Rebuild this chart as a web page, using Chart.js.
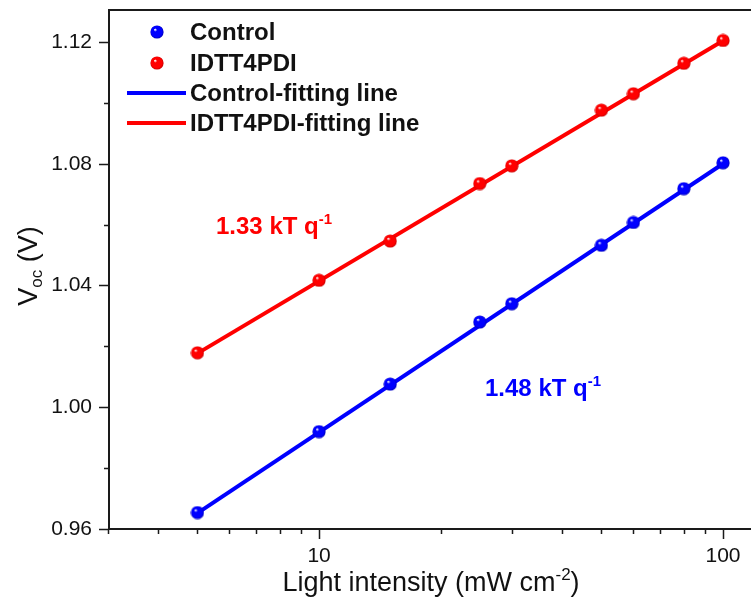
<!DOCTYPE html>
<html>
<head>
<meta charset="utf-8">
<script src="https://cdn.jsdelivr.net/npm/chart.js@4.4.1/dist/chart.umd.min.js"></script>
<style>
  html, body { margin: 0; padding: 0; background: #ffffff; }
  #vocChart { display: block; }
</style>
</head>
<body>
<canvas id="vocChart" width="751" height="603"></canvas>
<script>
// Data block
const intensity = [5, 10, 15, 25, 30, 50, 60, 80, 100];
const controlVoc = [0.9654, 0.9920, 1.0076, 1.0280, 1.0340, 1.0532, 1.0607, 1.0718, 1.0803];
const idttVoc = [1.0179, 1.0417, 1.0546, 1.0735, 1.0793, 1.0976, 1.1030, 1.1130, 1.1205];
const fitIntensity = [5, 100];
const controlFit = [0.9652, 1.0800];
const idttFit = [1.0177, 1.1204];
const xTickValues = [10, 100];
const yTickValues = [0.96, 1.00, 1.04, 1.08, 1.12];
const seriesLabels = ['Control', 'IDTT4PDI', 'Control-fitting line', 'IDTT4PDI-fitting line'];

const BLUE = '#0000ff';
const RED = '#ff0000';
const FONT = '"Liberation Sans", Arial, sans-serif';

// shaded ball used as point style
function makeBall(color, dark) {
    const c = document.createElement('canvas');
    c.width = 14;
    c.height = 14;
    const g = c.getContext('2d');
    const grad = g.createRadialGradient(5, 4.5, 0.3, 7, 7, 7);
    grad.addColorStop(0, '#ffffff');
    grad.addColorStop(0.22, color);
    grad.addColorStop(0.75, color);
    grad.addColorStop(1, dark);
    g.fillStyle = grad;
    g.beginPath();
    g.arc(7, 7, 6.6, 0, Math.PI * 2);
    g.fill();
    return c;
}
const blueBall = makeBall(BLUE, '#0000b0');
const redBall = makeBall(RED, '#c00000');

const toPoints = (xs, ys) => xs.map((x, i) => ({x: x, y: ys[i]}));

// Setup block
const vocData = {
    datasets: [{
        label: seriesLabels[0],
        data: toPoints(intensity, controlVoc),
        pointStyle: blueBall,
        showLine: false,
        order: 0
    }, {
        label: seriesLabels[1],
        data: toPoints(intensity, idttVoc),
        pointStyle: redBall,
        showLine: false,
        order: 0
    }, {
        label: seriesLabels[2],
        data: toPoints(fitIntensity, controlFit),
        showLine: true,
        borderColor: BLUE,
        borderWidth: 4,
        pointRadius: 0,
        order: 1
    }, {
        label: seriesLabels[3],
        data: toPoints(fitIntensity, idttFit),
        showLine: true,
        borderColor: RED,
        borderWidth: 4,
        pointRadius: 0,
        order: 1
    }]
};

// helper: text with a raised / lowered small part
function drawRich(ctx, parts, x, y, align) {
    let total = 0;
    parts.forEach(p => { ctx.font = p.font; total += ctx.measureText(p.text).width; });
    let cx = align === 'center' ? x - total / 2 : x;
    ctx.textAlign = 'left';
    ctx.textBaseline = 'alphabetic';
    parts.forEach(p => {
        ctx.font = p.font;
        ctx.fillText(p.text, cx, y + (p.dy || 0));
        cx += ctx.measureText(p.text).width;
    });
}

// Frame, ticks, titles, notes and legend plugin block
const vocDecor = {
    id: 'vocDecor',
    afterDraw(chart) {
        const ctx = chart.ctx;
        const area = chart.chartArea;
        const xs = chart.scales.x;
        const ys = chart.scales.y;
        ctx.save();

        // frame (right side is cut off in the original)
        ctx.strokeStyle = '#1a1a1a';
        ctx.lineWidth = 2;
        ctx.beginPath();
        ctx.moveTo(chart.width, area.top);
        ctx.lineTo(area.left, area.top);
        ctx.lineTo(area.left, area.bottom);
        ctx.lineTo(chart.width, area.bottom);
        ctx.stroke();

        // tick marks, major and minor, outward
        ctx.lineWidth = 1.5;
        ctx.beginPath();
        for (let d = 1; d <= 100; d *= 10) {
            for (let m = 1; m < 10; m++) {
                const v = d * m;
                if (v < xs.min * 0.99 || v > xs.max) continue;
                const px = Math.round(xs.getPixelForValue(v)) + 0.5;
                const len = m === 1 ? 10 : 5;
                ctx.moveTo(px, area.bottom);
                ctx.lineTo(px, area.bottom + len);
            }
        }
        for (let k = 0; k <= 8; k++) {
            const v = 0.96 + k * 0.02;
            if (v > ys.max) continue;
            const py = Math.round(ys.getPixelForValue(v)) + 0.5;
            const len = k % 2 === 0 ? 10 : 5;
            ctx.moveTo(area.left, py);
            ctx.lineTo(area.left - len, py);
        }
        ctx.stroke();

        // axis titles
        ctx.fillStyle = '#111111';
        drawRich(ctx, [
            {text: 'Light intensity (mW cm', font: '27px ' + FONT},
            {text: '-2', font: '17px ' + FONT, dy: -11},
            {text: ')', font: '27px ' + FONT}
        ], 431, 591, 'center');

        ctx.save();
        ctx.translate(37, 266);
        ctx.rotate(-Math.PI / 2);
        drawRich(ctx, [
            {text: 'V', font: '27px ' + FONT},
            {text: 'oc', font: '17px ' + FONT, dy: 5},
            {text: ' (V)', font: '27px ' + FONT}
        ], 0, 0, 'center');
        ctx.restore();

        // slope notes
        ctx.fillStyle = RED;
        drawRich(ctx, [
            {text: '1.33 kT q', font: 'bold 24px ' + FONT},
            {text: '-1', font: 'bold 15px ' + FONT, dy: -10}
        ], 216, 234, 'left');
        ctx.fillStyle = BLUE;
        drawRich(ctx, [
            {text: '1.48 kT q', font: 'bold 24px ' + FONT},
            {text: '-1', font: 'bold 15px ' + FONT, dy: -10}
        ], 485, 396, 'left');

        // legend
        const rows = [32, 63, 93, 123];
        const ds = chart.data.datasets;
        ctx.font = 'bold 24px ' + FONT;
        ctx.textAlign = 'left';
        ctx.textBaseline = 'middle';
        ds.forEach((d, i) => {
            const ry = rows[i];
            if (d.showLine) {
                ctx.strokeStyle = d.borderColor;
                ctx.lineWidth = 4;
                ctx.beginPath();
                ctx.moveTo(127, ry);
                ctx.lineTo(186, ry);
                ctx.stroke();
            } else {
                ctx.drawImage(d.pointStyle, 157 - 7, ry - 7);
            }
            ctx.fillStyle = '#111111';
            ctx.fillText(d.label, 190, ry + 1);
        });

        ctx.restore();
    }
};

// Config block
const vocConfig = {
    type: 'scatter',
    data: vocData,
    options: {
        responsive: false,
        animation: false,
        devicePixelRatio: 1,
        layout: {
            padding: {left: 0, top: 10, right: 0, bottom: 0}
        },
        plugins: {
            legend: {display: false},
            tooltip: {enabled: false}
        },
        scales: {
            x: {
                type: 'logarithmic',
                min: 3.02,
                max: 114,
                afterBuildTicks: scale => {
                    scale.ticks = xTickValues.map(v => ({value: v}));
                },
                afterFit: scale => {
                    scale.height = 74;
                    scale.paddingLeft = 0;
                    scale.paddingRight = 0;
                },
                grid: {display: false, drawTicks: false},
                border: {display: false},
                ticks: {
                    autoSkip: false,
                    maxRotation: 0,
                    padding: 15,
                    color: '#111111',
                    font: {family: FONT, size: 21},
                    callback: v => String(v)
                }
            },
            y: {
                min: 0.96,
                max: 1.1305,
                afterBuildTicks: scale => {
                    scale.ticks = yTickValues.map(v => ({value: v}));
                },
                afterFit: scale => {
                    scale.width = 109;
                    scale.paddingTop = 0;
                    scale.paddingBottom = 0;
                },
                grid: {display: false, drawTicks: false},
                border: {display: false},
                ticks: {
                    padding: 17,
                    color: '#111111',
                    font: {family: FONT, size: 21},
                    callback: v => Number(v).toFixed(2)
                }
            }
        }
    },
    plugins: [vocDecor]
};

// render / init block
const vocChart = new Chart(
    document.getElementById('vocChart'),
    vocConfig
);
</script>
</body>
</html>
